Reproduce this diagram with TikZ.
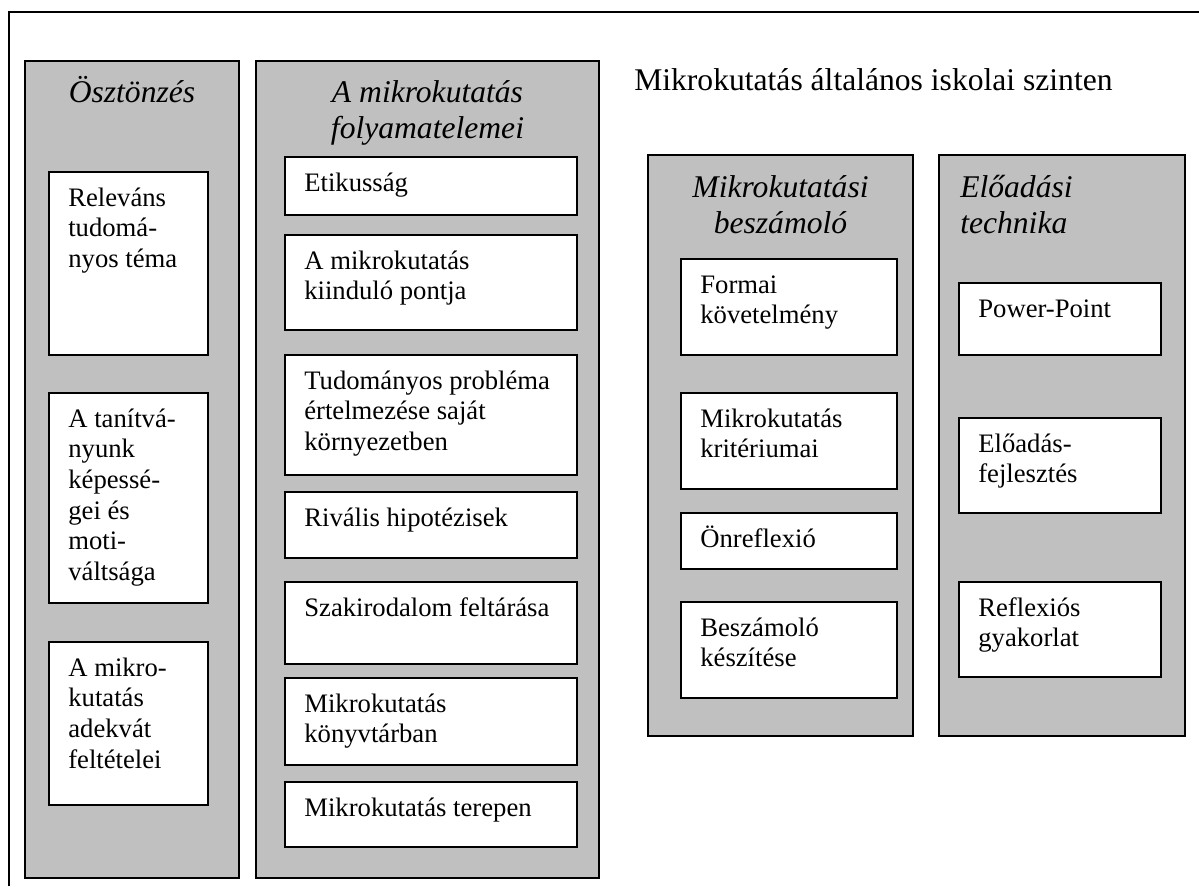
\documentclass[tikz,border=0pt]{standalone}
\usepackage{fontspec}
\setmainfont{Liberation Serif}
\usetikzlibrary{fit}
\definecolor{panelgray}{RGB}{192,192,192}
\tikzset{
  panel/.style={draw=black, line width=1.4pt, fill=panelgray, inner sep=0pt},
  cell/.style={draw=black, line width=1.4pt, fill=white, inner sep=0pt},
  celltext/.style={anchor=base west, inner sep=0pt, font=\fontsize{20}{23}\selectfont},
  paneltitle/.style={inner sep=0pt, font=\fontsize{23.7}{27.2}\selectfont\itshape},
  maintitle/.style={inner sep=0pt, anchor=base west, font=\fontsize{23.7}{27.2}\selectfont},
}
% a white cell with its left-aligned text: name, corner, corner, lines
\newcommand\cellbox[4]{%
  \node[cell, fit={#2 #3}] (#1) {};
  \node[celltext] (#1-t) at ([shift={(20,35)}]#1.north west)
    {\begin{tabular}[t]{@{}l@{}}#4\end{tabular}};
}
\begin{document}
\begin{tikzpicture}[x=0.75pt, y=-0.75pt]
\useasboundingbox (0,0) rectangle (1199,886);

% outer frame (open to the right and bottom)
\coordinate (fb) at (9,886);
\coordinate (ftl) at (9,12);
\coordinate (fr) at (1199,12);
\draw[line width=1.4pt] (fb) -- (ftl) -- (fr);

% panels
\node[panel, fit={(25,61) (239,878)}] (p1) {};
\node[panel, fit={(256,61) (599,878)}] (p2) {};
\node[panel, fit={(648,155) (913,736)}] (p3) {};
\node[panel, fit={(939,155) (1185,736)}] (p4) {};

% panel titles
\node[paneltitle, anchor=base] (p1-t) at (132,102)
  {\begin{tabular}[t]{@{}c@{}}Ösztönzés\end{tabular}};
\node[paneltitle, anchor=base] (p2-t) at (427.5,102)
  {\begin{tabular}[t]{@{}c@{}}A mikrokutatás\\folyamatelemei\end{tabular}};
\node[paneltitle, anchor=base] (p3-t) at (780.5,197)
  {\begin{tabular}[t]{@{}c@{}}Mikrokutatási\\beszámoló\end{tabular}};
\node[paneltitle, anchor=base west] (p4-t) at (960,197)
  {\begin{tabular}[t]{@{}l@{}}Előadási\\technika\end{tabular}};

\node[maintitle] (title) at (634,90) {Mikrokutatás általános iskolai szinten};

% first panel
\cellbox{a1}{(49,172)}{(208,355)}{Releváns\\tudomá-\\nyos téma}
\cellbox{a2}{(49,393)}{(208,603)}{A tanítvá-\\nyunk\\képessé-\\gei és\\moti-\\váltsága}
\cellbox{a3}{(49,642)}{(208,805)}{A mikro-\\kutatás\\adekvát\\feltételei}

% second panel
\cellbox{b1}{(285,157)}{(577,215)}{Etikusság}
\cellbox{b2}{(285,235)}{(577,330)}{A mikrokutatás\\kiinduló pontja}
\cellbox{b3}{(285,355)}{(577,475)}{Tudományos probléma\\értelmezése saját\\környezetben}
\cellbox{b4}{(285,492)}{(577,558)}{Rivális hipotézisek}
\cellbox{b5}{(285,582)}{(577,664)}{Szakirodalom feltárása}
\cellbox{b6}{(285,678)}{(577,765)}{Mikrokutatás\\könyvtárban}
\cellbox{b7}{(285,782)}{(577,847)}{Mikrokutatás terepen}

% third panel
\cellbox{c1}{(681,259)}{(897,355)}{Formai\\követelmény}
\cellbox{c2}{(681,393)}{(897,489)}{Mikrokutatás\\kritériumai}
\cellbox{c3}{(681,513)}{(897,569)}{Önreflexió}
\cellbox{c4}{(681,602)}{(897,698)}{Beszámoló\\készítése}

% fourth panel
\cellbox{d1}{(959,283)}{(1161,355)}{Power-Point}
\cellbox{d2}{(959,418)}{(1161,513)}{Előadás-\\fejlesztés}
\cellbox{d3}{(959,582)}{(1161,677)}{Reflexiós\\gyakorlat}
\end{tikzpicture}
\end{document}
